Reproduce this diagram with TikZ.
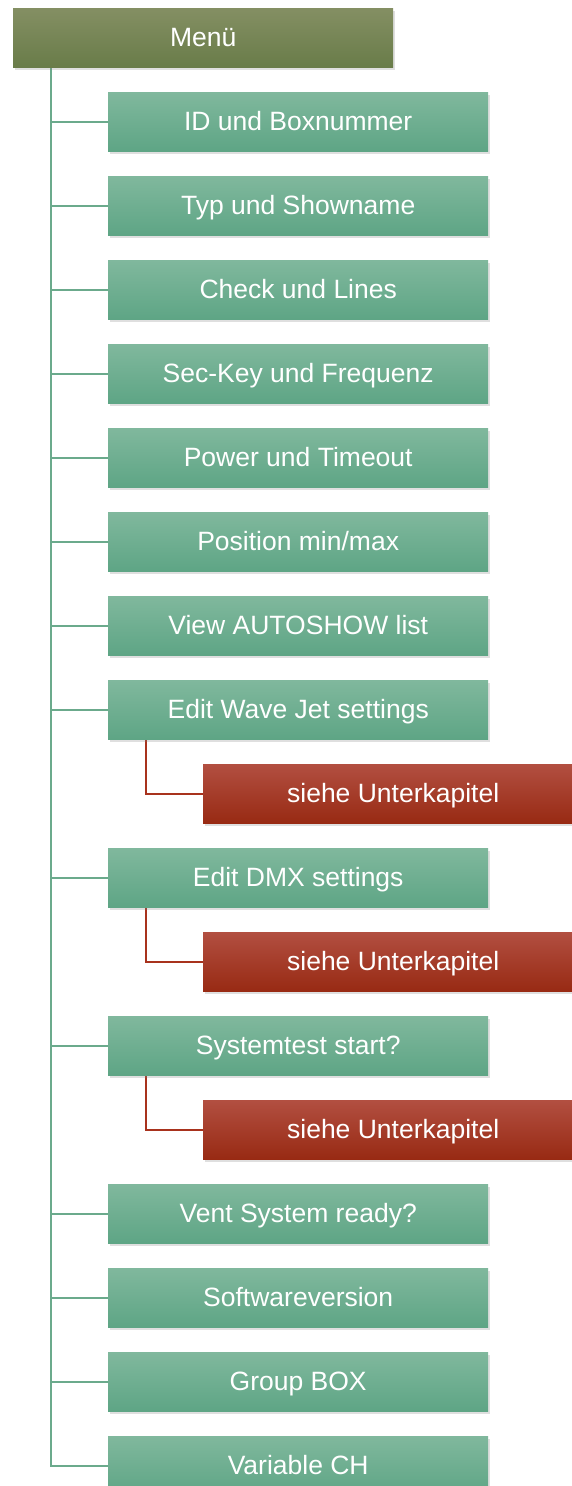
\documentclass[tikz,border=0pt]{standalone}
\usepackage{fontspec}
\setmainfont{Liberation Sans}
\usetikzlibrary{shadows,backgrounds,calc}
\definecolor{grtop}{HTML}{80B89D}
\definecolor{grbot}{HTML}{5EA585}
\definecolor{oltop}{HTML}{848F63}
\definecolor{olbot}{HTML}{697C49}
\definecolor{rdtop}{HTML}{B24F41}
\definecolor{rdbot}{HTML}{982A13}
\definecolor{grline}{HTML}{6BAA8C}
\definecolor{rdline}{HTML}{A8321D}
\tikzset{
  box/.style={rectangle, minimum width=380pt, minimum height=59pt, inner sep=0pt,
    anchor=north west, text=white, font=\fontsize{26.5}{30}\selectfont,
    text height=19pt, text depth=2pt,
    drop shadow={opacity=0.25, shadow xshift=1.5pt, shadow yshift=-3pt}},
  rootbox/.style={box, top color=oltop, bottom color=olbot},
  itembox/.style={box, top color=grtop, bottom color=grbot},
  subbox/.style={box, top color=rdtop, bottom color=rdbot},
  glink/.style={draw=grline, line width=2pt},
  rlink/.style={draw=rdline, line width=2pt}
}
\begin{document}
\begin{tikzpicture}[x=1pt,y=-1pt]
\useasboundingbox (0,0) rectangle (571,1486);
\node[rootbox] (menu) at (13,8) {Menü};
\foreach \n/\y/\t in {
  1/92/{ID und Boxnummer},
  2/176/{Typ und Showname},
  3/260/{Check und Lines},
  4/344/{Sec-Key und Frequenz},
  5/428/{Power und Timeout},
  6/512/{Position min/max},
  7/596/{View AUTOSHOW list},
  8/680/{Edit Wave Jet settings},
  9/848/{Edit DMX settings},
  10/1016/{Systemtest start?},
  11/1184/{Vent System ready?},
  12/1268/{Softwareversion},
  13/1352/{Group BOX},
  14/1436/{Variable CH}}
  {\node[itembox] (b\n) at (108,\y) {\t};}
\node[subbox] (s8) at (203,764) {siehe Unterkapitel};
\node[subbox] (s9) at (203,932) {siehe Unterkapitel};
\node[subbox] (s10) at (203,1100) {siehe Unterkapitel};
\begin{scope}[on background layer]
  \coordinate (trunk) at ($(menu.south west)+(38,0)$);
  \foreach \n in {1,...,14}
    \draw[glink] (trunk) |- (b\n.west);
  \foreach \n in {8,9,10}
    \draw[rlink] ($(b\n.south west)+(38,0)$) |- (s\n.west);
\end{scope}
\end{tikzpicture}
\end{document}
